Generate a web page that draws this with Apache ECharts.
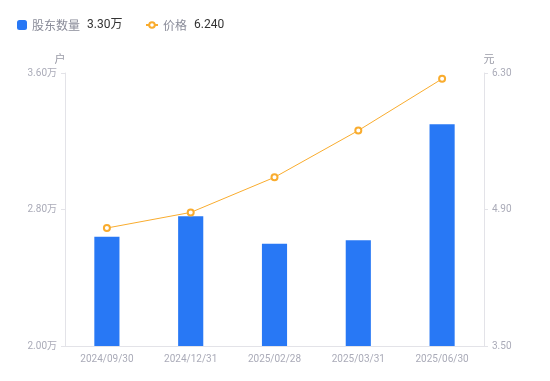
<!DOCTYPE html>
<html><head><meta charset="utf-8">
<script src="https://cdn.jsdelivr.net/npm/echarts@6/dist/echarts.min.js"></script>
<style>html,body{margin:0;padding:0;background:#fff}#c{width:550px;height:381px}</style>
</head><body><div id="c"></div>
<script>
var categories = ['2024/09/30','2024/12/31','2025/02/28','2025/03/31','2025/06/30'];
var holders = [2.64, 2.76, 2.60, 2.62, 3.30];
var prices = [4.71, 4.87, 5.23, 5.71, 6.24];
var leftTicks = {min: 2.0, max: 3.6, interval: 0.8};
var rightTicks = {min: 3.5, max: 6.3, interval: 1.4};
var legendValues = {'股东数量': '3.30万', '价格': '6.240'};

var chart = echarts.init(document.getElementById('c'));
var axisCommon = {
  axisLine: {show: true, lineStyle: {color: '#e3e3e8'}},
  axisTick: {show: true, length: 4, lineStyle: {color: '#e3e3e8'}},
  splitLine: {show: false},
  axisLabel: {color: '#aaabb8', fontSize: 10, fontFamily: 'Roboto, Noto Sans CJK SC'}
};
var legendText = {fontSize: 12, fontFamily: 'Noto Sans CJK SC', rich: {
  n: {color: '#8a8c99', fontSize: 12, fontFamily: 'Noto Sans CJK SC'},
  v: {color: '#333333', fontSize: 12, fontFamily: 'Roboto, Noto Sans CJK SC', padding: [0,0,0,7]}
}};
function fmt(n){ return '{n|' + n + '}{v|' + legendValues[n] + '}'; }
chart.setOption({
  animation: false,
  legend: [{
    left: 17, top: 19, padding: 0, itemWidth: 10, itemHeight: 10, itemGap: 4,
    textStyle: legendText, formatter: fmt,
    data: [{name: '股东数量', icon: 'roundRect'}]
  }, {
    left: 145, top: 19, padding: 0, itemWidth: 12, itemHeight: 7,
    textStyle: legendText, formatter: fmt,
    data: [{name: '价格'}]
  }],
  grid: {left: 65, right: 66, top: 73, bottom: 35},
  xAxis: {
    type: 'category', data: categories,
    axisLine: {show: true, lineStyle: {color: '#e3e3e8'}},
    axisTick: {show: false},
    axisLabel: {color: '#aaabb8', fontSize: 10, fontFamily: 'Roboto, Noto Sans CJK SC', margin: 8}
  },
  yAxis: [
    Object.assign({}, axisCommon, {
      type: 'value', name: '户', nameGap: 9, position: 'left',
      min: leftTicks.min, max: leftTicks.max, interval: leftTicks.interval,
      nameTextStyle: {color: '#999aa6', fontSize: 11, fontFamily: 'Noto Sans CJK SC', padding: [0, 0, 0, -10]},
      axisLabel: Object.assign({}, axisCommon.axisLabel, {formatter: function(v){return v.toFixed(2)+'万';}})
    }),
    Object.assign({}, axisCommon, {
      type: 'value', name: '元', nameGap: 9, position: 'right',
      min: rightTicks.min, max: rightTicks.max, interval: rightTicks.interval,
      nameTextStyle: {color: '#999aa6', fontSize: 11, fontFamily: 'Noto Sans CJK SC', padding: [0, 0, 0, 10]},
      axisLabel: Object.assign({}, axisCommon.axisLabel, {formatter: function(v){return v.toFixed(2);}})
    })
  ],
  series: [
    {name: '股东数量', type: 'bar', data: holders, yAxisIndex: 0, barWidth: '30%',
     itemStyle: {color: '#2878f5'}},
    {name: '价格', type: 'line', data: prices, yAxisIndex: 1,
     symbol: 'emptyCircle', symbolSize: 6,
     itemStyle: {color: '#f9ac2e', borderWidth: 1.5},
     lineStyle: {color: '#f9ac2e', width: 1}}
  ]
});
</script></body></html>
